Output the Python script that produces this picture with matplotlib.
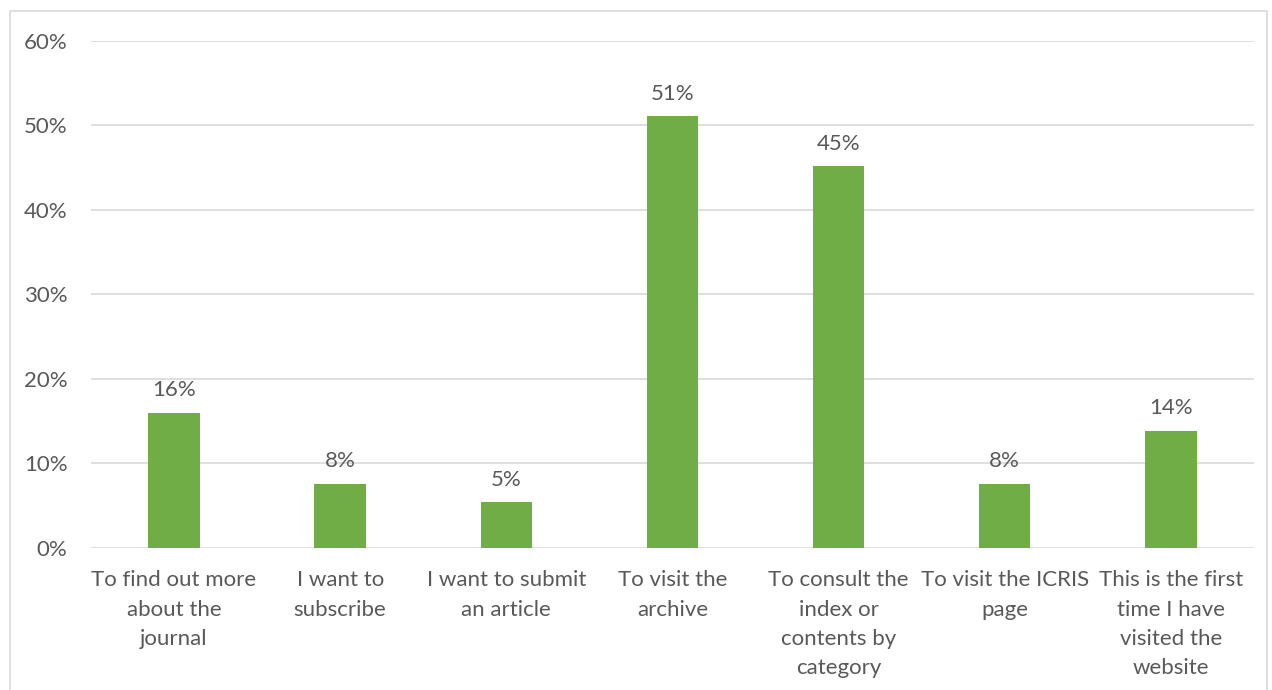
import matplotlib.pyplot as plt
from matplotlib.patches import Rectangle
from matplotlib.ticker import PercentFormatter

plt.rcParams['font.family'] = ['Lato', 'DejaVu Sans']

# reasons for visiting the website (share of respondents)
categories = ['To find out more\nabout the\njournal', 'I want to\nsubscribe',
              'I want to submit\nan article', 'To visit the\narchive',
              'To consult the\nindex or\ncontents by\ncategory',
              'To visit the ICRIS\npage', 'This is the first\ntime I have\nvisited the\nwebsite']
shares = [0.16, 0.076, 0.054, 0.511, 0.452, 0.076, 0.139]

text_col = '#595959'
fs = 16
fig = plt.figure(figsize=(12.72, 6.9), dpi=100)
ax = fig.add_axes([0.0715, 0.2058, 0.9143, 0.7348])

x = range(len(categories))
ax.bar(x, shares, width=0.31, color='#70AD47', zorder=3)
for xi, v in zip(x, shares):
    ax.annotate(f'{v:.0%}', (xi, v), xytext=(0, 9), textcoords='offset points',
                ha='center', va='bottom', fontsize=fs, color=text_col)

ax.set_xlim(-0.5, len(categories) - 0.5)
ax.set_ylim(0, 0.6)
ax.set_yticks([0, 0.1, 0.2, 0.3, 0.4, 0.5, 0.6])
ax.yaxis.set_major_formatter(PercentFormatter(1.0, decimals=0))
ax.set_xticks(list(x))
ax.set_xticklabels(categories, linespacing=1.58)
ax.tick_params(length=0, labelsize=fs, labelcolor=text_col)
ax.tick_params(axis='y', pad=17)
ax.tick_params(axis='x', pad=16)
ax.grid(axis='y', color='#D9D9D9', linewidth=1.2, zorder=0)
for s in ax.spines.values():
    s.set_visible(False)

# outer chart border
fig.patches.append(Rectangle((10 / 1272, -0.1), 1257 / 1272, 1.1 - 11 / 690,
                             transform=fig.transFigure, fill=False,
                             edgecolor='#D9D9D9', linewidth=1.2))

fig.savefig('out.png', dpi=100)
